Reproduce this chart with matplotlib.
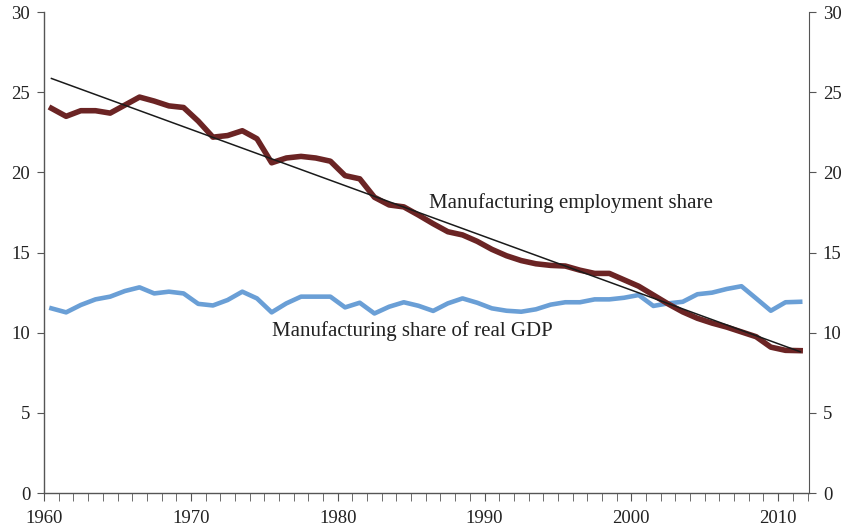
import numpy as np
import matplotlib
matplotlib.use("Agg")
import matplotlib.pyplot as plt
from matplotlib.ticker import MultipleLocator

# Годы наблюдений (1960-2011), точки рисуются в середине года
years = np.arange(1960, 2012)

# Доля занятости в обрабатывающей промышленности, %
employment_share = [
    24.0, 23.5, 23.85, 23.85, 23.7, 24.2, 24.7, 24.45, 24.15, 24.05,
    23.2, 22.2, 22.3, 22.6, 22.1, 20.6, 20.9, 21.0, 20.9, 20.7,
    19.8, 19.6, 18.45, 17.97, 17.85, 17.34, 16.8, 16.3, 16.1, 15.7,
    15.2, 14.8, 14.5, 14.3, 14.2, 14.16, 13.9, 13.7, 13.7, 13.3,
    12.9, 12.35, 11.8, 11.3, 10.9, 10.6, 10.35, 10.05, 9.75, 9.1,
    8.9, 8.88,
]

# Доля обрабатывающей промышленности в реальном ВВП, %
gdp_share = [
    11.52, 11.27, 11.73, 12.08, 12.25, 12.6, 12.83, 12.45, 12.56, 12.45,
    11.8, 11.7, 12.04, 12.56, 12.14, 11.27, 11.83, 12.25, 12.25, 12.25,
    11.58, 11.87, 11.2, 11.62, 11.9, 11.68, 11.36, 11.83, 12.14, 11.87,
    11.52, 11.37, 11.31, 11.46, 11.75, 11.9, 11.9, 12.08, 12.08, 12.18,
    12.35, 11.67, 11.83, 11.93, 12.4, 12.5, 12.73, 12.9, 12.14, 11.37,
    11.9, 11.93,
]

x = years + 0.5

plt.rcParams['font.family'] = ['Liberation Serif', 'DejaVu Serif']
axis_color = '#555555'
text_color = '#222222'

fig = plt.figure(figsize=(8.48, 5.27), dpi=100)
ax = fig.add_axes([0.052, 0.0645, 0.902, 0.9125])

ax.plot(x, gdp_share, color='#6A9FD6', lw=3.3, solid_joinstyle='round')
ax.plot(x, employment_share, color='#6B2424', lw=4.0, solid_joinstyle='round')

# Линейный тренд занятости
k, b = np.polyfit(x, employment_share, 1)
ax.plot(x[[0, -1]], k * x[[0, -1]] + b, color='#1a1a1a', lw=1.1)

ax.set_xlim(1960, 2012.1)
ax.set_ylim(0, 30)
ax.yaxis.set_major_locator(MultipleLocator(5))
ax.xaxis.set_major_locator(MultipleLocator(10))
ax.xaxis.set_minor_locator(MultipleLocator(1))

for side in ['top', 'right']:
    ax.spines[side].set_visible(False)
for side in ['left', 'bottom']:
    ax.spines[side].set_color(axis_color)
    ax.spines[side].set_linewidth(1.0)

ax.tick_params(axis='both', which='both', direction='out', color=axis_color,
               labelcolor=text_color, labelsize=13.5)
ax.tick_params(axis='x', which='both', length=6, pad=6)
ax.tick_params(axis='y', length=5, pad=5)

ax2 = ax.twinx()
ax2.set_ylim(0, 30)
ax2.yaxis.set_major_locator(MultipleLocator(5))
for side in ['top', 'left', 'bottom']:
    ax2.spines[side].set_visible(False)
ax2.spines['right'].set_color(axis_color)
ax2.tick_params(axis='y', direction='out', length=5, pad=5, color=axis_color,
                labelcolor=text_color, labelsize=13.5)

ax.text(1986.2, 18.1, 'Manufacturing employment share', fontsize=15,
        color=text_color, va='center', ha='left')
ax.text(1975.5, 10.1, 'Manufacturing share of real GDP', fontsize=15,
        color=text_color, va='center', ha='left')

fig.savefig('out.png', dpi=100)
